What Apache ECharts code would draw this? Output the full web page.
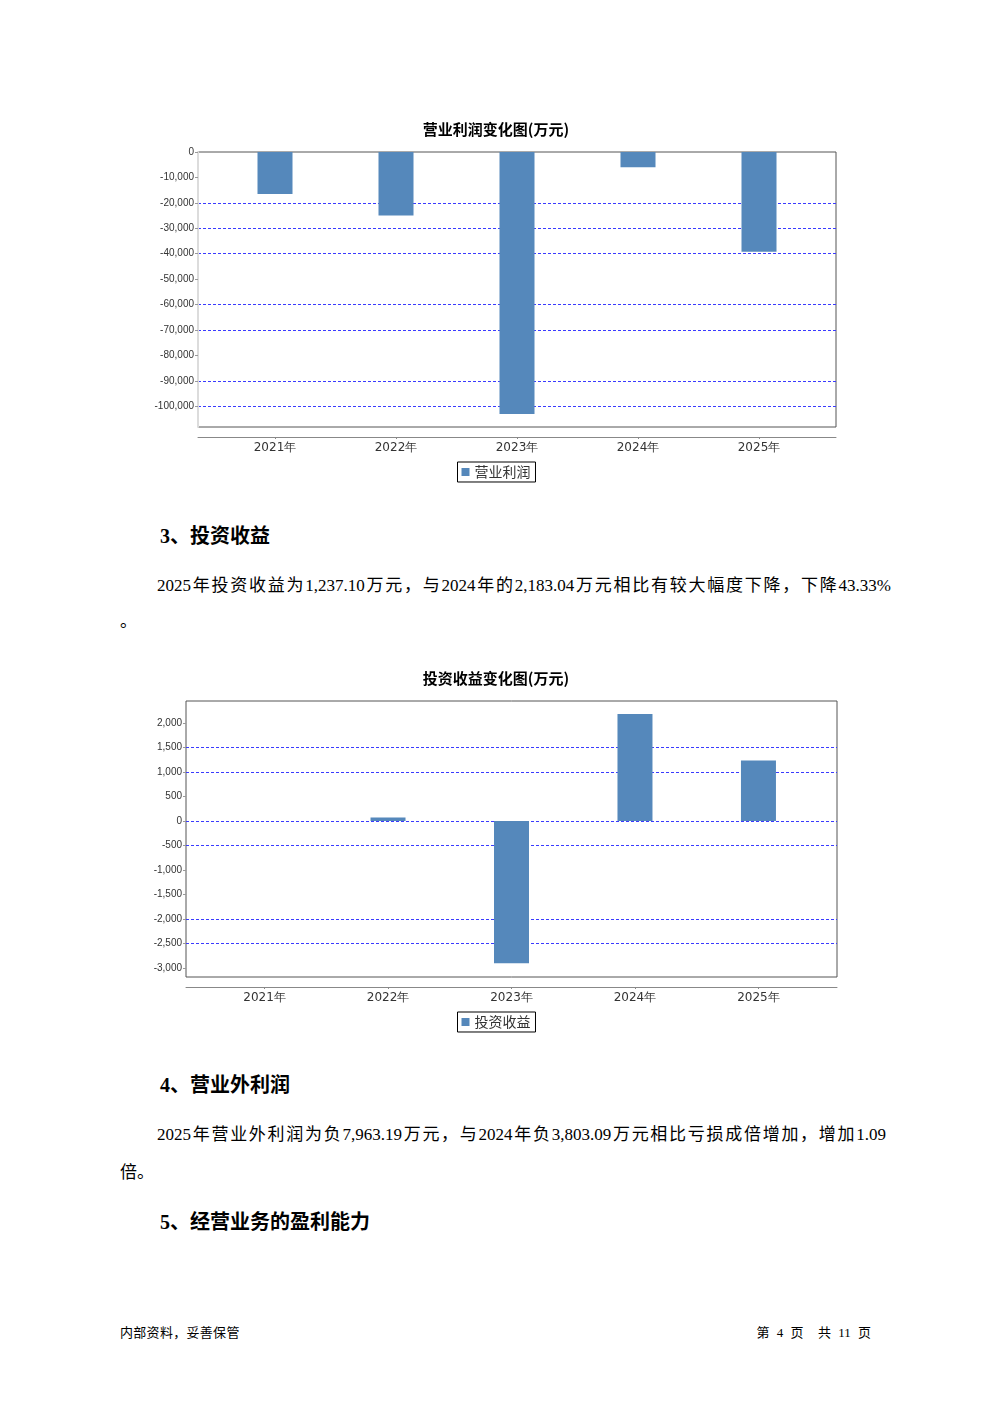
<!DOCTYPE html>
<html>
<head>
<meta charset="utf-8">
<script src="https://cdn.jsdelivr.net/npm/echarts@6/dist/echarts.min.js"></script>
<style>
  html, body { margin: 0; padding: 0; background: #fff; }
  body { width: 992px; height: 1403px; position: relative; overflow: hidden; }
  .t { position: absolute; color: #000; white-space: nowrap; }
  .h { font-family: "Liberation Serif", "Noto Sans CJK SC", serif; font-weight: bold; font-size: 20px; line-height: 20px; }
  .p { font-family: "Liberation Serif", "Noto Sans CJK SC", serif; font-size: 17px; line-height: 18px; white-space: normal; text-align: justify; text-align-last: justify; }
  .f { font-family: "Liberation Serif", "Noto Sans CJK SC", sans-serif; font-size: 13px; line-height: 14px; }
  .chart { position: absolute; left: 0; width: 992px; height: 400px; }
</style>
</head>
<body>
<div id="c1" class="chart" style="top:100px;"></div>
<div id="c2" class="chart" style="top:650px;"></div>

<div class="t h" style="left:160px; top:526px;">3、投资收益</div>
<div class="t p" style="left:157px; top:577px; width:734px;">2025年投资收益为1,237.10万元，与2024年的2,183.04万元相比有较大幅度下降，下降43.33%</div>
<div class="t p" style="left:120px; top:613px; text-align:left; text-align-last:left;">。</div>

<div class="t h" style="left:160px; top:1075px;">4、营业外利润</div>
<div class="t p" style="left:157px; top:1126px; width:729px;">2025年营业外利润为负7,963.19万元，与2024年负3,803.09万元相比亏损成倍增加，增加1.09</div>
<div class="t p" style="left:120px; top:1164px; text-align:left; text-align-last:left;">倍。</div>

<div class="t h" style="left:160px; top:1212px;">5、经营业务的盈利能力</div>

<div class="t f" style="left:120px; top:1326px; letter-spacing:0.3px;">内部资料，妥善保管</div>
<div class="t f" style="right:121px; top:1326px; word-spacing:4px;">第 4 页 &nbsp;共 11 页</div>

<script>
// ---- data ----
var years = ['2021年', '2022年', '2023年', '2024年', '2025年'];
var opProfitName = '营业利润';
var opProfit = [-16500, -25000, -103000, -6000, -39200];
var invIncomeName = '投资收益';
var invIncome = [0, 75, -2900, 2183.04, 1237.10];

var BAR = '#5588bb';
var GRIDC = '#3b3bff';
var T = 'rgba(0,0,0,0)';
function fmt(v) { return Math.round(v).toLocaleString('en-US'); }

function buildOption(cfg) {
  return {
    animation: false,
    backgroundColor: '#fff',
    title: {
      text: cfg.title, left: 'center', top: cfg.titleTop,
      textStyle: { fontSize: 15, fontWeight: 'bold', color: '#000', fontFamily: 'Noto Sans CJK SC' }
    },
    legend: {
      data: [cfg.name], left: 'center', top: cfg.legendTop,
      icon: 'rect', itemWidth: 8, itemHeight: 8, itemGap: 4,
      padding: [3, 5, 3, 4], borderColor: '#000', borderWidth: 1, backgroundColor: '#fff',
      textStyle: { fontSize: 14, color: '#333', fontFamily: 'Noto Sans CJK SC' }
    },
    grid: [
      { left: cfg.left, top: cfg.top, width: cfg.width, height: cfg.height, show: true,
        borderColor: '#555', borderWidth: 1, backgroundColor: '#fff' },
      { left: cfg.left + cfg.margin, top: cfg.top, width: cfg.width - 2 * cfg.margin, height: cfg.height }
    ],
    xAxis: [
      { gridIndex: 0, type: 'value', min: 0, max: 1, offset: 10, position: 'bottom',
        axisLine: { show: true, onZero: false, lineStyle: { color: '#888', width: 1 } },
        axisTick: { show: false }, axisLabel: { show: false }, splitLine: { show: false } },
      { gridIndex: 1, type: 'category', data: years, offset: 10, position: 'bottom',
        axisLine: { show: false, onZero: false },
        axisTick: { show: true, alignWithLabel: true, length: 2, lineStyle: { color: '#888' } },
        axisLabel: { fontSize: 12, color: '#333', margin: 5, fontFamily: 'DejaVu Sans' } }
    ],
    yAxis: [
      { gridIndex: 0, type: 'value', min: cfg.min, max: cfg.max, splitNumber: 11,
        axisLine: { show: cfg.leftLine, onZero: false, lineStyle: { color: '#dcdcdc', width: 2 } },
        axisTick: { show: true, length: 3, lineStyle: { color: '#999' } },
        axisLabel: { fontSize: 10, color: '#333', margin: 4, fontFamily: 'Liberation Sans',
                     showMinLabel: false, showMaxLabel: cfg.showMax, formatter: fmt },
        splitLine: { show: true, lineStyle: { color: cfg.lineColors, type: [3, 2], width: 1 } } },
      { gridIndex: 1, type: 'value', min: cfg.min, max: cfg.max, show: false, splitLine: { show: false } }
    ],
    series: [{
      type: 'bar', name: cfg.name, xAxisIndex: 1, yAxisIndex: 1, data: cfg.data,
      barWidth: 35, itemStyle: { color: BAR }
    }]
  };
}

var c1 = echarts.init(document.getElementById('c1'), null, { renderer: 'canvas' });
c1.setOption(buildOption({
  title: '营业利润变化图(万元)', titleTop: 17, legendTop: 362, name: opProfitName, data: opProfit,
  left: 198, top: 52, width: 638, height: 275, margin: 16.5,
  min: -108140, max: 0, showMax: true, leftLine: true,
  lineColors: [T, GRIDC, GRIDC, T, GRIDC, GRIDC, T, GRIDC, GRIDC, GRIDC, T, T]
}));

var c2 = echarts.init(document.getElementById('c2'), null, { renderer: 'canvas' });
c2.setOption(buildOption({
  title: '投资收益变化图(万元)', titleTop: 16, legendTop: 362, name: invIncomeName, data: invIncome,
  left: 186, top: 51, width: 651, height: 276, margin: 16.8,
  min: -3180, max: 2450, showMax: false, leftLine: false,
  lineColors: [T, T, GRIDC, GRIDC, T, T, GRIDC, GRIDC, T, GRIDC, GRIDC, T, T]
}));
</script>
</body>
</html>
